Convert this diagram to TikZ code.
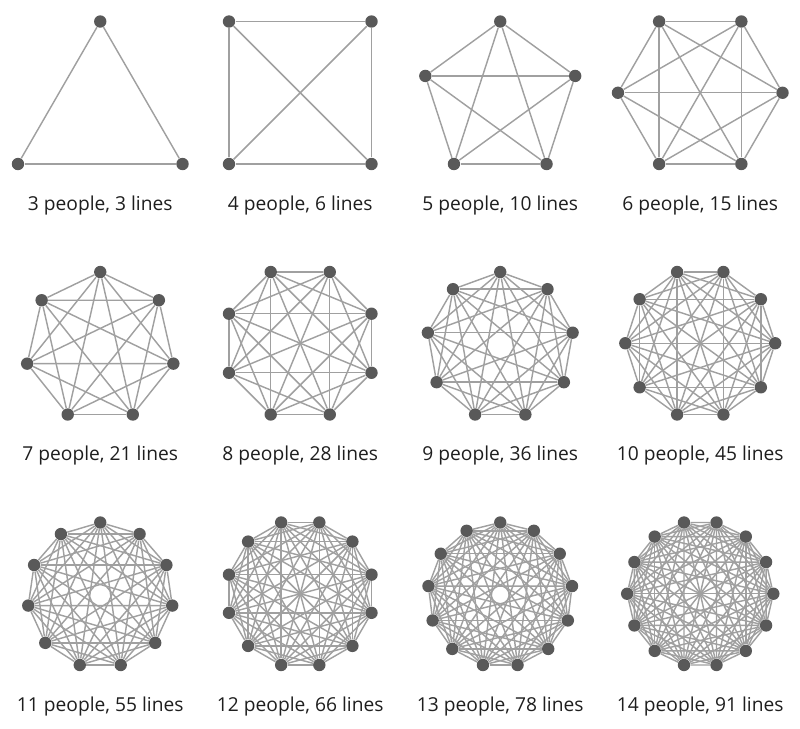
\documentclass[tikz,border=0pt]{standalone}
\usepackage{fontspec}
\setmainfont{Open Sans}
\usepackage{tikz}
\usetikzlibrary{backgrounds}
\definecolor{dotgray}{HTML}{595959}
\definecolor{linegray}{HTML}{A0A0A0}
\definecolor{textgray}{HTML}{1E1E1E}

\begin{document}
\begin{tikzpicture}[x=0.5pt,y=-0.5pt,
	person/.style={circle,fill=dotgray,inner sep=0pt,minimum size=6.2pt},
	link/.style={color=linegray,line width=0.72pt},
	caption/.style={anchor=base,text=textgray,font=\fontsize{9.6}{11}\selectfont}]
	\useasboundingbox (0,0) rectangle (800,729);
	\foreach \n/\col/\row in {3/0/0,4/1/0,5/2/0,6/3/0,7/0/1,8/1/1,9/2/1,10/3/1,11/0/2,12/1/2,13/2/2,14/3/2}{
		\pgfmathsetmacro{\cx}{100.25+200*\col}
		\pgfmathsetmacro{\ytop}{21.5+250.5*\row}
		\pgfmathsetmacro{\half}{180/\n}
		\pgfmathtruncatemacro{\odd}{mod(\n,2)}
		\pgfmathsetmacro{\rad}{ifthenelse(\odd==1,142.5/(1+cos(\half)),71.25/cos(\half))}
		\pgfmathsetmacro{\cy}{\ytop+ifthenelse(\odd==1,\rad,71.25)}
		\pgfmathsetmacro{\start}{ifthenelse(\odd==1,-90,-90+\half)}
		\pgfmathtruncatemacro{\lines}{\n*(\n-1)/2}
		% the people
		\foreach \k in {1,...,\n}
			\node[person] (g\n-\k) at ({\cx+\rad*cos(\start+360*(\k-1)/\n)},{\cy+\rad*sin(\start+360*(\k-1)/\n)}) {};
		% every pair gets a line
		\begin{scope}[on background layer]
			\foreach \i in {1,...,\n}{
				\foreach \j in {1,...,\n}{
					\ifnum\j>\i \draw[link] (g\n-\i)--(g\n-\j); \fi
				}
			}
		\end{scope}
		\node[caption] (label\n) at (\cx,\ytop+188.5) {\n{} people, \lines{} lines};
	}
\end{tikzpicture}
\end{document}
